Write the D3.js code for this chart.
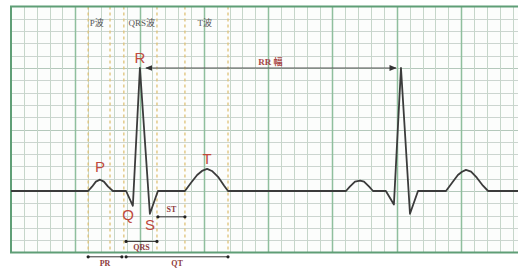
<!DOCTYPE html>
<html>
<head>
<meta charset="utf-8">
<script src="https://cdn.jsdelivr.net/npm/d3@7"></script>
<style>
    body { margin: 0; background: #fff; }
    svg { display: block; }
</style>
</head>
<body>
<svg id="chart" width="518" height="268"></svg>
<script>
// ECG trace: time in seconds, amplitude in mV
const ecgTime = [
    0, 0.240, 0.252, 0.264, 0.277, 0.289, 0.302, 0.317,
    0.358, 0.379, 0.401, 0.432, 0.457,
    0.541, 0.560, 0.579, 0.594, 0.610, 0.625, 0.644, 0.663, 0.675,
    1.042, 1.054, 1.070, 1.086, 1.098, 1.114, 1.126,
    1.166, 1.191, 1.213, 1.241, 1.266,
    1.353, 1.372, 1.390, 1.403, 1.415, 1.431, 1.449, 1.468, 1.484, 1.577
];
const ecgVoltage = [
    0, 0, 0.035, 0.076, 0.092, 0.076, 0.035, 0,
    0, -0.12, 1.0, -0.185, 0,
    0, 0.067, 0.13, 0.163, 0.18, 0.163, 0.115, 0.043, 0,
    0, 0.035, 0.076, 0.085, 0.076, 0.035, 0,
    0, -0.11, 1.0, -0.185, 0,
    0, 0.067, 0.13, 0.157, 0.172, 0.157, 0.108, 0.043, 0, 0
];

// dashed guides at the wave boundaries (s)
const guideTimes = [0.240, 0.308, 0.351, 0.454, 0.541, 0.675];

const waveHeaders = ['P波', 'QRS波', 'T波'];
const waveHeaderTimes = [0.267, 0.407, 0.603];

const peakLabels = ['P', 'Q', 'R', 'S', 'T'];
const peakTimes = [0.277, 0.364, 0.401, 0.432, 0.610];

const intervalNames = ['ST', 'QRS', 'PR', 'QT'];
const intervalStarts = [0.457, 0.358, 0.240, 0.358];
const intervalEnds = [0.541, 0.454, 0.345, 0.675];

const rrStart = 0.401;
const rrEnd = 1.213;
const rrLabel = 'RR 幅';

// layout
const frame = {left: 11, right: 518, top: 6.5, bottom: 252.5};
const secPerBox = 0.04;
const mvPerBox = 0.1;

const x = d3.scaleLinear()
    .domain([0, 1.577])
    .range([frame.left, frame.right]);

const y = d3.scaleLinear()
    .domain([-0.5, 1.5])
    .range([frame.bottom, frame.top]);

const svg = d3.select('#chart');

svg.append('rect')
    .attr('width', 518)
    .attr('height', 268)
    .attr('fill', '#ffffff');

svg.append('rect')
    .attr('x', frame.left)
    .attr('y', frame.top)
    .attr('width', frame.right - frame.left)
    .attr('height', frame.bottom - frame.top)
    .attr('fill', '#fcfdfc');

// grid
const nCols = Math.floor(x.domain()[1] / secPerBox + 1e-6);
const vLines = d3.range(1, nCols + 1).map(i => ({v: i * secPerBox, major: i % 5 === 0}));
const hLines = d3.range(1, 20).map(i => ({v: -0.5 + i * mvPerBox, major: i % 5 === 0}));

const grid = svg.append('g').attr('class', 'grid');

grid.selectAll('line.h')
    .data(hLines)
    .join('line')
    .attr('class', 'h')
    .attr('x1', frame.left)
    .attr('x2', frame.right)
    .attr('y1', d => Math.round(y(d.v)) + 0.5)
    .attr('y2', d => Math.round(y(d.v)) + 0.5)
    .attr('stroke', d => d.major ? '#b4c8bb' : '#ccd5d0')
    .attr('stroke-width', 1);

grid.selectAll('line.v')
    .data(vLines)
    .join('line')
    .attr('class', 'v')
    .attr('x1', d => Math.round(x(d.v)) + 0.5)
    .attr('x2', d => Math.round(x(d.v)) + 0.5)
    .attr('y1', frame.top)
    .attr('y2', frame.bottom)
    .attr('stroke', d => d.major ? '#8fbf9d' : '#c6d6ca')
    .attr('stroke-width', d => d.major ? 1.5 : 1);

// dashed boundary guides
svg.append('g')
    .selectAll('line')
    .data(guideTimes)
    .join('line')
    .attr('x1', d => x(d))
    .attr('x2', d => x(d))
    .attr('y1', frame.top)
    .attr('y2', frame.bottom)
    .attr('stroke', '#dfc277')
    .attr('stroke-width', 1.3)
    .attr('stroke-dasharray', '3,3');

// frame border (no right edge)
svg.append('path')
    .attr('d', `M${frame.right},${frame.top} H${frame.left} V${frame.bottom} H${frame.right}`)
    .attr('fill', 'none')
    .attr('stroke', '#5f9e76')
    .attr('stroke-width', 2);

// trace
const line = d3.line()
    .x(i => x(ecgTime[i]))
    .y(i => y(ecgVoltage[i]));

svg.append('path')
    .datum(d3.range(ecgTime.length))
    .attr('d', line)
    .attr('fill', 'none')
    .attr('stroke', '#3b3b3b')
    .attr('stroke-width', 1.8)
    .attr('stroke-linejoin', 'round');

// headers at the top
svg.append('g')
    .selectAll('text')
    .data(waveHeaders)
    .join('text')
    .attr('x', (d, i) => x(waveHeaderTimes[i]))
    .attr('y', 26)
    .attr('text-anchor', 'middle')
    .attr('font-family', '"Liberation Serif", "Noto Sans CJK SC", serif')
    .attr('font-size', 9)
    .attr('fill', '#555')
    .text(d => d);

// P Q R S T letters; baseline level in mV
const peakLabelLevel = {P: 0.157, Q: -0.233, R: 1.043, S: -0.315, T: 0.222};
svg.append('g')
    .selectAll('text')
    .data(peakLabels)
    .join('text')
    .attr('x', (d, i) => x(peakTimes[i]))
    .attr('y', d => y(peakLabelLevel[d]))
    .attr('text-anchor', 'middle')
    .attr('font-family', '"Liberation Sans", Arial, sans-serif')
    .attr('font-size', 15)
    .attr('fill', '#bf4a3c')
    .text(d => d);

// RR arrow
svg.append('defs').html(`
    <marker id="arr" viewBox="0 0 10 10" refX="9" refY="5" markerWidth="6" markerHeight="6" orient="auto-start-reverse">
        <path d="M0,1 L10,5 L0,9 z" fill="#333"/>
    </marker>`);

svg.append('line')
    .attr('x1', x(rrStart) + 6)
    .attr('x2', x(rrEnd) - 5)
    .attr('y1', y(1.0))
    .attr('y2', y(1.0))
    .attr('stroke', '#555')
    .attr('stroke-width', 1.2)
    .attr('marker-start', 'url(#arr)')
    .attr('marker-end', 'url(#arr)');

svg.append('text')
    .attr('x', x((rrStart + rrEnd) / 2))
    .attr('y', y(1.0) - 3)
    .attr('text-anchor', 'middle')
    .attr('font-family', '"Liberation Serif", "Noto Sans CJK SC", serif')
    .attr('font-size', 9)
    .attr('font-weight', 'bold')
    .attr('fill', '#a84848')
    .text(rrLabel);

// interval arrows: arrow level (mV) and label offset
const intervalLevel = {ST: -0.21, QRS: -0.41, PR: -0.535, QT: -0.535};
const intervalLabelDy = {ST: -5, QRS: 9, PR: 9, QT: 9};

const intervals = svg.append('g')
    .selectAll('g')
    .data(intervalNames)
    .join('g');

intervals.append('line')
    .attr('x1', (d, i) => x(intervalStarts[i]))
    .attr('x2', (d, i) => x(intervalEnds[i]))
    .attr('y1', d => y(intervalLevel[d]))
    .attr('y2', d => y(intervalLevel[d]))
    .attr('stroke', '#333')
    .attr('stroke-width', 1);

intervals.selectAll('circle')
    .data((d, i) => [intervalStarts[i], intervalEnds[i]].map(t => ({t, d})))
    .join('circle')
    .attr('cx', p => x(p.t))
    .attr('cy', p => y(intervalLevel[p.d]))
    .attr('r', 1.6)
    .attr('fill', '#222');

intervals.append('text')
    .attr('x', (d, i) => x((intervalStarts[i] + intervalEnds[i]) / 2))
    .attr('y', d => y(intervalLevel[d]) + intervalLabelDy[d])
    .attr('text-anchor', 'middle')
    .attr('font-family', '"Liberation Serif", serif')
    .attr('font-size', 8)
    .attr('font-weight', 'bold')
    .attr('fill', '#8e3b3b')
    .text(d => d);
</script>
</body>
</html>
